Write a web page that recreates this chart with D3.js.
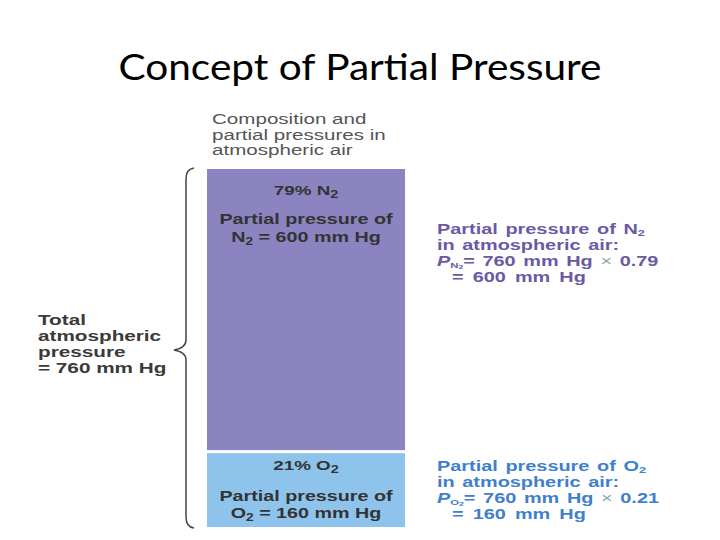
<!DOCTYPE html>
<html><head><meta charset="utf-8">
<script src="https://cdn.jsdelivr.net/npm/d3@7"></script>
<style>body{margin:0;background:#fff}svg{display:block}</style>
</head><body>
<svg id="c" width="720" height="540"></svg>
<script>
const gases = ["N", "O"];
const percents = [79, 21];
const pressures = [600, 160];
const fractions = ["0.79", "0.21"];
const total = 760;
const colors = ["#8b84c0", "#8ec3eb"];
const labelColors = ["#6a5aa6", "#3f80cc"];

const svg = d3.select("#c");
const F = "'Liberation Sans', Arial, sans-serif";

svg.append("text").attr("x", 360).attr("y", 80).attr("text-anchor", "middle")
  .attr("font-family", "Lato, 'Open Sans', sans-serif").attr("font-size", 36)
  .attr("textLength", 483).attr("lengthAdjust", "spacingAndGlyphs")
  .attr("fill", "#000").text("Concept of Partial Pressure");

const y = d3.scaleLinear().domain([0, total]).range([169, 527]);
const x0 = 207, x1 = 405, cx = (x0 + x1) / 2;

let cum = [0];
pressures.forEach((p, i) => cum.push(cum[i] + p));

svg.append("g").selectAll("rect").data(pressures).join("rect")
  .attr("x", x0).attr("width", x1 - x0)
  .attr("y", (d, i) => y(cum[i]) + (i > 0 ? 1.5 : 0))
  .attr("height", (d, i) => y(cum[i + 1]) - y(cum[i]) - 1.5)
  .attr("fill", (d, i) => colors[i]);

// stretched text helper
function st(x, yy, sx, opts) {
  const t = svg.append("text").attr("transform", `translate(${x},${yy}) scale(${sx},1)`)
    .attr("font-family", F).attr("font-size", opts.size || 14)
    .attr("font-weight", opts.bold ? "bold" : "normal")
    .attr("fill", opts.fill || "#333");
  if (opts.anchor) t.attr("text-anchor", opts.anchor);
  if (opts.ws) t.attr("word-spacing", opts.ws);
  return t;
}

// header
const head = ["Composition and", "partial pressures in", "atmospheric air"];
head.forEach((h, i) => st(212, 124 + i * 15.5, 1.47, { size: 14, fill: "#555" }).text(h));

// inside bar text
const off = [[26, 55, 73], [17, 48, 65]];
pressures.forEach((p, i) => {
  const top = y(cum[i]) + (i > 0 ? 1.5 : 0);
  const o = off[i];
  const t1 = st(cx, top + o[0], 1.45, { size: 13, bold: true, anchor: "middle" });
  t1.append("tspan").text(percents[i] + "% " + gases[i]);
  t1.append("tspan").attr("font-size", 10).attr("dy", 3).text("2");
  st(cx, top + o[1], 1.36, { size: 14.5, bold: true, anchor: "middle" }).text("Partial pressure of");
  const t3 = st(cx, top + o[2], 1.36, { size: 14.5, bold: true, anchor: "middle" });
  t3.append("tspan").text(gases[i]);
  t3.append("tspan").attr("font-size", 10).attr("dy", 3).text("2");
  t3.append("tspan").attr("dy", -3).text(" = " + p + " mm Hg");
});

// right labels
const rightTop = [234, 471];
pressures.forEach((p, i) => {
  const by = rightTop[i];
  const o = { size: 14, bold: true, fill: labelColors[i], ws: 1.5 };
  const a = st(437, by, 1.42, o);
  a.append("tspan").text("Partial pressure of " + gases[i]);
  a.append("tspan").attr("font-size", 9).attr("dy", 2).text("2");
  st(437, by + 16, 1.42, o).text("in atmospheric air:");
  const c = st(437, by + 32, 1.42, o);
  c.append("tspan").attr("font-style", "italic").text("P");
  c.append("tspan").attr("font-size", 8).attr("dy", 2).text(gases[i]);
  c.append("tspan").attr("font-size", 6).attr("dy", 0.5).text("2");
  c.append("tspan").attr("dy", -2.5).text("= " + total + " mm Hg ");
  c.append("tspan").attr("font-weight", "normal").attr("fill", "#8aa").text(" \u00d7 ");
  c.append("tspan").text(fractions[i]);
  st(452, by + 48, 1.42, { ...o, ws: 2.5 }).text("= " + p + " mm Hg");
});

// brace
const yt = y(0), yb = y(total), ym = 350;
const bx = 186;
const path = d3.path();
path.moveTo(bx + 8, yt - 1);
path.quadraticCurveTo(bx, yt, bx, yt + 10);
path.lineTo(bx, ym - 10);
path.quadraticCurveTo(bx, ym - 2, bx - 12, ym);
path.quadraticCurveTo(bx, ym + 2, bx, ym + 10);
path.lineTo(bx, yb - 10);
path.quadraticCurveTo(bx, yb, bx + 8, yb + 1);
svg.append("path").attr("d", path.toString()).attr("fill", "none")
  .attr("stroke", "#444").attr("stroke-width", 1.5);

// left label
const left = ["Total", "atmospheric", "pressure", "= 760 mm Hg"];
left.forEach((l, i) => st(38, 325 + i * 16, 1.48, { size: 14, bold: true, fill: "#3a3a3a" }).text(l));
</script>
</body></html>
